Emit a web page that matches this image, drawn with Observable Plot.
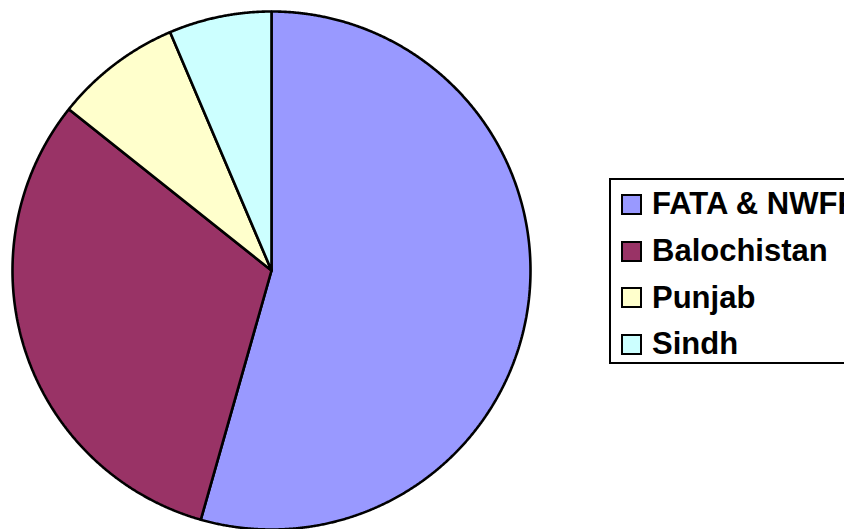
<!DOCTYPE html>
<html>
<head>
<meta charset="utf-8">
<script src="https://cdn.jsdelivr.net/npm/d3@7"></script>
<script src="https://cdn.jsdelivr.net/npm/@observablehq/plot@0.6"></script>
<style>
  html, body { margin: 0; padding: 0; background: #fff; }
  #wrap { position: relative; width: 844px; height: 529px; overflow: hidden; background: #fff; }
  #legend { position: absolute; left: 609px; top: 178px; width: 300px; height: 186px; border: 2px solid #000; box-sizing: border-box; background: #fff; }
  .sw { position: absolute; width: 21px; height: 21px; border: 2px solid #000; box-sizing: border-box; }
  .lb { position: absolute; font-family: "Liberation Sans", Arial, sans-serif; font-weight: bold; font-size: 31px; line-height: 31px; color: #000; white-space: nowrap; }
</style>
</head>
<body>
<div id="wrap"><div id="chart"></div><div id="legend"></div></div>
<script>
const categories = ["FATA & NWFP", "Balochistan", "Punjab", "Sindh"];
const values = [54.4, 31.3, 7.9, 6.4];
const colors = ["#9999FF", "#993366", "#FFFFCC", "#CCFFFF"];

const data = categories.map((c, i) => ({cat: c, value: values[i]}));
const arcs = d3.pie().sort(null).value(d => d.value)(data);

// polygon outline points for each slice (center -> arc -> center)
const pts = [];
arcs.forEach(a => {
  const cat = a.data.cat;
  pts.push({cat, x: 0, y: 0});
  const n = Math.max(2, Math.ceil((a.endAngle - a.startAngle) / 0.004));
  for (let k = 0; k <= n; k++) {
    const t = a.startAngle + (a.endAngle - a.startAngle) * k / n;
    pts.push({cat, x: Math.sin(t), y: Math.cos(t)});
  }
  pts.push({cat, x: 0, y: 0});
});

const chart = Plot.plot({
  width: 844,
  height: 529,
  marginLeft: 12,
  marginRight: 314,
  marginTop: 11,
  marginBottom: 0,
  x: {domain: [-1, 1], axis: null},
  y: {domain: [-1, 1], axis: null},
  color: {domain: categories, range: colors},
  style: {overflow: "visible", background: "#fff"},
  marks: [
    Plot.line(pts, {x: "x", y: "y", z: "cat", fill: "cat", stroke: "#000", strokeWidth: 2.6, strokeLinejoin: "miter"})
  ]
});
document.getElementById("chart").appendChild(chart);

// legend
const legend = document.getElementById("legend");
const rowTops = [192, 238.7, 285.3, 332];
categories.forEach((c, i) => {
  const sw = document.createElement("div");
  sw.className = "sw";
  sw.style.left = (619 - 609) + "px";
  sw.style.top = (rowTops[i] - 178) + "px";
  sw.style.background = colors[i];
  legend.appendChild(sw);
  const lb = document.createElement("div");
  lb.className = "lb";
  lb.style.left = (650 - 609) + "px";
  lb.style.top = (rowTops[i] + 20.5 - 26.2 - 178) + "px";
  lb.textContent = c;
  legend.appendChild(lb);
});
</script>
</body>
</html>
